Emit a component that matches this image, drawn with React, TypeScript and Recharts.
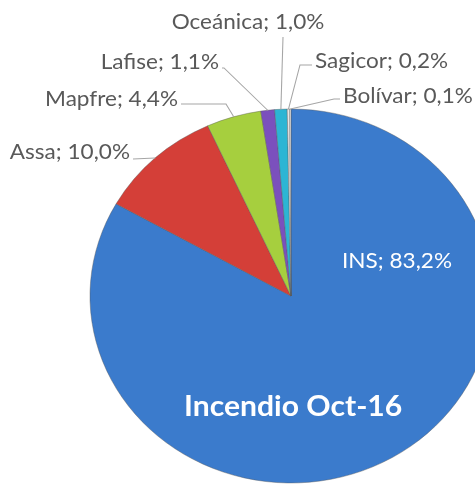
import React from 'react';
import { PieChart, Pie, Cell } from 'recharts';

const insurers = ['INS', 'Assa', 'Mapfre', 'Lafise', 'Oceánica', 'Sagicor', 'Bolívar'];
const shares = [83.2, 10.0, 4.4, 1.1, 1.0, 0.2, 0.1];
const chartTitle = 'Incendio Oct-16';

const sliceColors = ['#3b7bcc', '#d43f38', '#a6cf3e', '#7b50bd', '#2cb5d4', '#e6e6e6', '#f4f4f4'];

// horizontal stretch of the original picture
const SX = 1.075;
const CX = 291;
const CY = 296;
const R = 187;

// label placement in final picture coords: [elbowX, elbowY, textX, textY, anchor]
const labelLayout: [number, number, number, number, string][] = [
  [0, 0, 397, 268, 'middle'],
  [133, 159, 130, 159, 'end'],
  [226, 104, 178, 106, 'end'],
  [224, 68, 219, 69, 'end'],
  [283, 37, 248, 29, 'middle'],
  [300, 65, 315, 68, 'start'],
  [334, 99, 343, 103, 'start'],
];

const data = insurers.map((name, i) => ({ name, value: shares[i] }));

const toLocal = (x: number) => CX + (x - CX) / SX;
const fmt = (v: number) => `${v.toFixed(1).replace('.', ',')}%`;

const RAD = Math.PI / 180;

const renderLabel = (props: any) => {
  const { cx, cy, midAngle, outerRadius, index, name, value } = props;
  const [ex, ey, tx, ty, anchor] = labelLayout[index];
  const text = `${name}; ${fmt(value)}`;
  if (index === 0) {
    return (
      <text x={toLocal(tx)} y={ty} fill="#ffffff" fontSize={21} textAnchor="middle" fontFamily="Lato, sans-serif">
        {text}
      </text>
    );
  }
  const sx = cx + outerRadius * Math.cos(-midAngle * RAD);
  const sy = cy + outerRadius * Math.sin(-midAngle * RAD);
  const endX = anchor === 'end' ? tx + 3 : anchor === 'start' ? tx - 3 : ex;
  return (
    <g>
      <polyline
        points={`${sx},${sy} ${toLocal(ex)},${ey} ${toLocal(endX)},${ey}`}
        fill="none"
        stroke="#a6a6a6"
        strokeWidth={1}
      />
      <text x={toLocal(tx)} y={ty} fill="#595959" fontSize={21} textAnchor={anchor as any} fontFamily="Lato, sans-serif">
        {text}
      </text>
    </g>
  );
};

export default function App() {
  return (
    <div style={{ position: 'absolute', left: 0, top: 0, width: 475, height: 485, overflow: 'hidden', background: '#fff' }}>
      <div style={{ position: 'relative', width: 475, height: 485, transform: `scaleX(${SX})`, transformOrigin: `${CX}px 0px` }}>
        <PieChart width={475} height={485} margin={{ top: 0, right: 0, bottom: 0, left: 0 }}>
          <Pie
            data={data}
            dataKey="value"
            nameKey="name"
            cx={CX}
            cy={CY}
            outerRadius={R}
            startAngle={90}
            endAngle={-270}
            stroke="#5a5a5a"
            strokeWidth={0.4}
            label={renderLabel}
            labelLine={false}
            isAnimationActive={false}
          >
            {data.map((d, i) => (
              <Cell key={d.name} fill={sliceColors[i]} />
            ))}
          </Pie>
        </PieChart>
        <div
          style={{
            position: 'absolute',
            left: 0,
            width: 2 * CX + 4,
            top: 388,
            textAlign: 'center',
            color: '#ffffff',
            fontFamily: 'Lato, sans-serif',
            fontWeight: 700,
            fontSize: 28,
            lineHeight: '34px',
          }}
        >
          {chartTitle}
        </div>
      </div>
    </div>
  );
}
